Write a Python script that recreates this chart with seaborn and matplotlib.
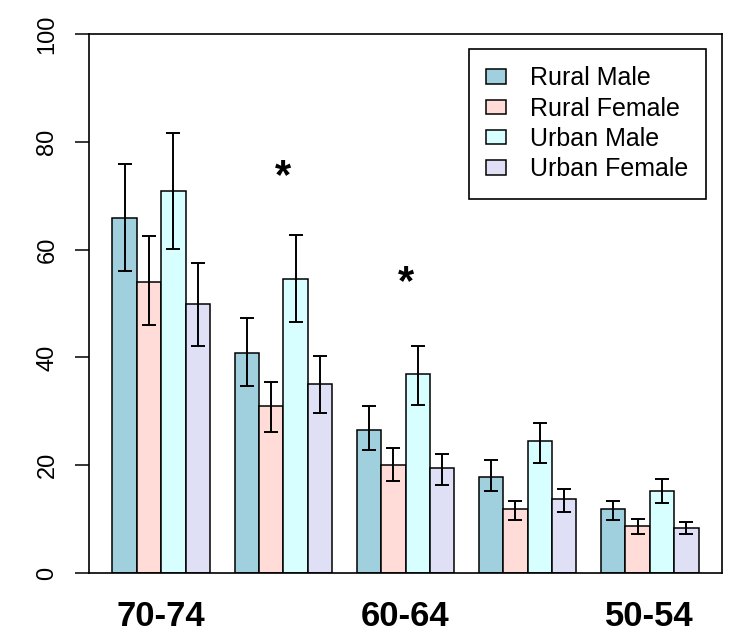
import numpy as np
import pandas as pd
import matplotlib
matplotlib.use("Agg")
import matplotlib.pyplot as plt
import matplotlib.transforms as mtransforms
import seaborn as sns

# age groups (oldest first) and the four series
age_groups = ['70-74', '65-69', '60-64', '55-59', '50-54']
series = ['Rural Male', 'Rural Female', 'Urban Male', 'Urban Female']
colors = ['#A0CFDD', '#FFDCD8', '#D8FFFF', '#DFDFF6']

# bar heights
rural_male = [65.9, 40.8, 26.6, 17.9, 11.8]
rural_female = [54.0, 30.9, 20.1, 11.8, 8.7]
urban_male = [70.9, 54.5, 36.9, 24.4, 15.2]
urban_female = [50.0, 35.0, 19.4, 13.7, 8.3]

# lower / upper ends of the error bars
rural_male_lo = [56.0, 34.7, 22.8, 15.2, 9.8]
rural_male_hi = [75.9, 47.3, 30.9, 20.9, 13.3]
rural_female_lo = [46.1, 26.2, 17.1, 9.8, 7.2]
rural_female_hi = [62.5, 35.4, 23.2, 13.3, 10.0]
urban_male_lo = [60.2, 46.5, 31.2, 20.5, 12.9]
urban_male_hi = [81.6, 62.8, 42.2, 27.8, 17.5]
urban_female_lo = [42.2, 29.6, 16.3, 11.4, 7.2]
urban_female_hi = [57.6, 40.3, 22.1, 15.6, 9.4]

# significance stars: (age group index, height)
star_groups = [1, 2]
star_heights = [75.0, 55.2]

means = [rural_male, rural_female, urban_male, urban_female]
lows = [rural_male_lo, rural_female_lo, urban_male_lo, urban_female_lo]
highs = [rural_male_hi, rural_female_hi, urban_male_hi, urban_female_hi]

rows = []
for s, vals in zip(series, means):
    for a, v in zip(age_groups, vals):
        rows.append({'age': a, 'group': s, 'value': v})
df = pd.DataFrame(rows)

sns.set_style("ticks")
plt.rcParams['font.family'] = ['Liberation Sans', 'DejaVu Sans']
plt.rcParams['text.color'] = 'black'
plt.rcParams['xtick.color'] = 'black'
plt.rcParams['ytick.color'] = 'black'

fig = plt.figure(figsize=(7.33, 6.33), dpi=100)
ax = fig.add_axes([89 / 733, 60 / 633, 633 / 733, 539 / 633])

sns.barplot(data=df, x='age', y='value', hue='group', order=age_groups,
            hue_order=series, palette=dict(zip(series, colors)),
            errorbar=None, width=0.8, gap=0, saturation=1,
            edgecolor='black', linewidth=1.1, ax=ax)

# error bars at the bar centres
for cont, m, lo, hi in zip(ax.containers, means, lows, highs):
    xs = [b.get_x() + b.get_width() / 2 for b in cont]
    m = np.array(m)
    err = [m - np.array(lo), np.array(hi) - m]
    ax.errorbar(xs, m, yerr=err, fmt='none', ecolor='black',
                elinewidth=1.4, capsize=5, capthick=1.4, zorder=5)

# asterisk glyph sits high above the baseline, shift it down onto the value
star_tr = mtransforms.offset_copy(ax.transData, fig=fig, x=0, y=-19, units='dots')
for g, h in zip(star_groups, star_heights):
    ax.text(g, h, '*', ha='center', va='baseline', fontsize=30,
            fontweight='bold', transform=star_tr)

ax.set_ylim(0, 100)
ax.set_xlim(-0.592, 4.592)
ax.set_yticks([0, 20, 40, 60, 80, 100])
ax.set_xticks(range(len(age_groups)))
ax.set_xticklabels([a if i % 2 == 0 else '' for i, a in enumerate(age_groups)],
                   fontsize=25, fontweight='bold')
ax.tick_params(axis='x', length=0, pad=19.5)
ax.tick_params(axis='y', length=10, width=1.1, labelsize=17, pad=12,
               labelrotation=90)
for lab in ax.get_yticklabels():
    lab.set_va('center')
ax.set_xlabel('')
ax.set_ylabel('')
for sp in ax.spines.values():
    sp.set_visible(True)
    sp.set_linewidth(1.2)
    sp.set_color('black')

handles, labels = ax.get_legend_handles_labels()
ax.legend(handles, labels, loc='upper right', bbox_to_anchor=(0.9747, 0.9722),
          borderaxespad=0, fontsize=18, frameon=True, fancybox=False,
          edgecolor='black', framealpha=1, handlelength=0.8,
          handleheight=0.52, handletextpad=0.95, labelspacing=0.25,
          borderpad=0.7)
ax.get_legend().get_frame().set_linewidth(1.2)

fig.savefig('out.png', dpi=100)
